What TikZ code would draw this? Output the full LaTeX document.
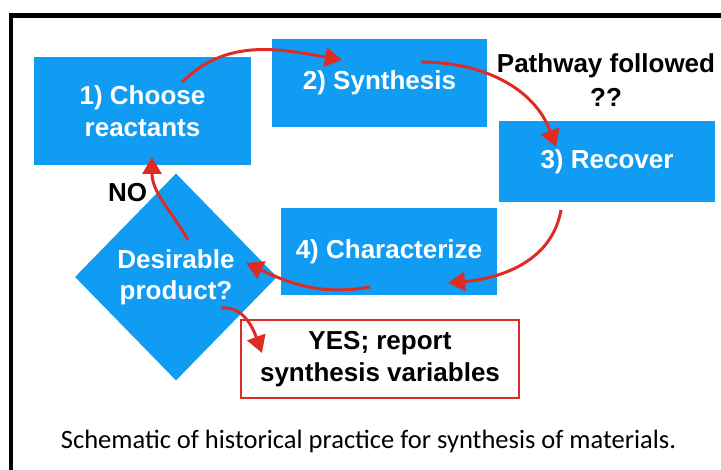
\documentclass[tikz,border=0pt]{standalone}
\usepackage{fontspec}
\setmainfont{Carlito}
\newfontfamily\helv{Liberation Sans}
\usetikzlibrary{arrows.meta,shapes.geometric}
\definecolor{stepblue}{RGB}{16,156,243}
\definecolor{arrowred}{RGB}{222,44,36}
\tikzstyle{stage-box} = [fill=stepblue, text=white, rectangle, inner sep=0pt,
    font=\helv\bfseries\fontsize{26}{32}\selectfont, align=center]
\tikzstyle{decision-box} = [fill=stepblue, text=white, diamond, inner sep=0pt,
    minimum width=202pt, minimum height=207pt,
    font=\helv\bfseries\fontsize{26}{31}\selectfont, align=center]
\tikzstyle{note-text} = [text=black, inner sep=0pt,
    font=\helv\bfseries\fontsize{26}{34}\selectfont, align=center]
\tikzstyle{flow} = [draw=arrowred, line width=3pt,
    -{Triangle[length=17pt,width=19pt]}]

\begin{document}
\begin{tikzpicture}[x=1pt,y=1pt]
\useasboundingbox (0,0) rectangle (721,470);
% frame
\draw[line width=4.5pt] (11,0) -- (11,454.5) -- (721,454.5);

\node[stage-box, minimum width=217pt, minimum height=108pt] (choose) at (142.5,359) {1) Choose\\reactants};
\node[stage-box, minimum width=215pt, minimum height=88pt] (synth) at (379.5,387) {2) Synthesis};
\node[stage-box, minimum width=216pt, minimum height=81pt] (recover) at (607,308.5) {3) Recover};
\node[stage-box, minimum width=216pt, minimum height=87pt] (charac) at (389,218.5) {4) Characterize};
\node[decision-box] (desire) at (176,193) {Desirable\\product?};
\node[note-text, draw=arrowred, line width=2.5pt, fill=white,
    minimum width=278pt, minimum height=78pt, font=\helv\bfseries\fontsize{26}{32}\selectfont] (report) at (380,111) {YES; report\\synthesis variables};

\node[note-text] (pathway) at (606,390) {Pathway followed\\??};
\node[note-text] (no) at (127.5,277) {NO};
\node[inner sep=0pt, font=\fontsize{26.5}{30}\selectfont] (caption) at (368.5,29) {Schematic of historical practice for synthesis of materials.};

% loop of steps
\draw[flow] ([shift={(40,29)}]choose.center) to[out=45,in=170] ([shift={(-37.5,23)}]synth.center);
\draw[flow] ([shift={(41.5,21)}]synth.center) to[out=0,in=110] ([shift={(-51,14.5)}]recover.center);
\draw[flow] ([shift={(-46,-48.5)}]recover.center) to[out=-100,in=5] ([shift={(59,-31.5)}]charac.center);
\draw[flow] ([shift={(-19,-35.5)}]charac.center) to[out=190,in=-25] ([shift={(70,14)}]desire.center);
\draw[flow] ([shift={(12,37)}]desire.center) to[out=120,in=-90] ([shift={(9.5,-46)}]choose.center);
\draw[flow] ([shift={(45,-31)}]desire.center) to[out=5,in=110] ([shift={(-118,6)}]report.center);
\end{tikzpicture}
\end{document}
